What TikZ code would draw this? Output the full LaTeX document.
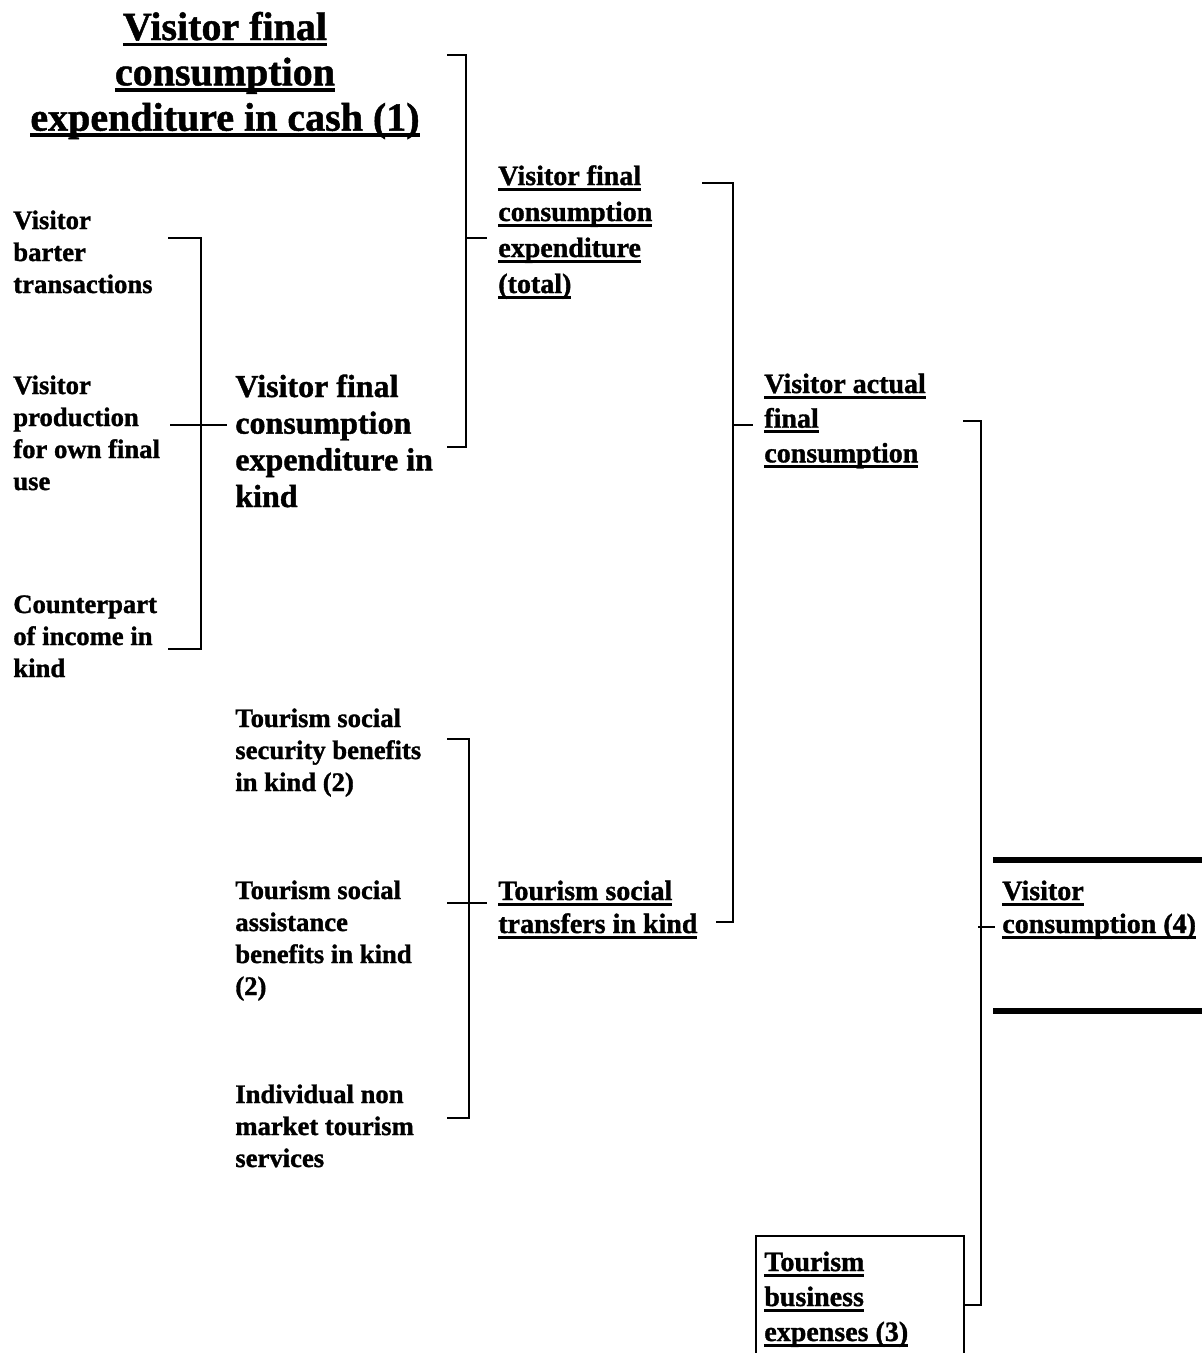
\documentclass[tikz,border=0pt]{standalone}
\usepackage{fontspec}
\setmainfont{Liberation Serif}[BoldFeatures={FakeBold=1.2}]
\newcommand\myul[1]{\setbox0=\hbox{#1}\rlap{\rule[-4.2pt]{\wd0}{2.3pt}}\box0}
\newcommand\mytul[1]{\setbox0=\hbox{#1}\rlap{\rule[-4.8pt]{\wd0}{2.7pt}}\box0}
\newcommand\lns[2]{\vtop{\baselineskip=#1\lineskiplimit=-100pt\halign{##\hfil\cr#2\crcr}}}
\newcommand\clns[2]{\vtop{\baselineskip=#1\lineskiplimit=-100pt\halign{\hfil##\hfil\cr#2\crcr}}}
\begin{document}
\begin{tikzpicture}[x=0.75pt,y=-0.75pt,line width=2pt,
  lbl/.style={inner sep=0pt,anchor=base west},
  sml/.style={lbl,font=\bfseries\fontsize{20}{24}\selectfont},
  mid/.style={lbl,font=\bfseries\fontsize{21}{26}\selectfont},
  big/.style={lbl,font=\bfseries\fontsize{24}{28}\selectfont},
  brk/.style={line width=2pt},
  thick bar/.style={line width=4.6pt}]
\useasboundingbox (0,0) rectangle (1202,1353);
\clip (0,0) rectangle (1202,1353);

% texts
\node[inner sep=0pt,anchor=base,font=\bfseries\fontsize{30}{34}\selectfont] (cash) at (225,40)
  {\clns{34pt}{\mytul{Visitor final}\cr\mytul{consumption}\cr\mytul{expenditure in cash (1)}}};
\node[sml] (barter) at (12,229) {\lns{24pt}{Visitor\cr barter\cr transactions}};
\node[sml] (own) at (12,394) {\lns{24pt}{Visitor\cr production\cr for own final\cr use}};
\node[sml] (income) at (12,613) {\lns{24pt}{Counterpart\cr of income in\cr kind}};
\node[big] (kind) at (234,397) {\lns{27.5pt}{Visitor final\cr consumption\cr expenditure in\cr kind}};
\node[mid] (total) at (497,185) {\lns{27pt}{\myul{Visitor final}\cr\myul{consumption}\cr\myul{expenditure}\cr\myul{(total)}}};
\node[mid] (actual) at (763,393) {\lns{26pt}{\myul{Visitor actual}\cr\myul{final}\cr\myul{consumption}}};
\node[sml] (security) at (234,727) {\lns{24pt}{Tourism social\cr security benefits\cr in kind (2)}};
\node[sml] (assist) at (234,899) {\lns{24pt}{Tourism social\cr assistance\cr benefits in kind\cr (2)}};
\node[sml] (nonmkt) at (234,1103) {\lns{24pt}{Individual non\cr market tourism\cr services}};
\node[mid] (transfers) at (497,900) {\lns{24.75pt}{\myul{Tourism social}\cr\myul{transfers in kind}}};
\node[mid] (vcons) at (1001,900) {\lns{24.75pt}{\myul{Visitor}\cr\myul{consumption (4)}}};
\node[draw,line width=1.6pt,inner sep=0pt,anchor=north west,minimum width=208*0.75pt,minimum height=140*0.75pt] (boxB) at (755,1235) {};
\node[mid] (business) at (763,1271) {\lns{26.25pt}{\myul{Tourism}\cr\myul{business}\cr\myul{expenses (3)}}};

% bracket 1: in kind
\coordinate (b1t) at (168,238); \coordinate (b1b) at (168,649);
\coordinate (b1l) at (170,425); \coordinate (b1r) at (227,425);
\draw[brk] (b1t) -- (201,238) -- (201,649) -- (b1b);
\draw[brk] (b1l) -- (b1r);
% bracket 2: total
\coordinate (b2t) at (447,55); \coordinate (b2b) at (447,447);
\coordinate (b2r) at (487,238);
\draw[brk] (b2t) -- (466,55) -- (466,447) -- (b2b);
\draw[brk] (466,238) -- (b2r);
% bracket 3: actual
\coordinate (b3t) at (702,183); \coordinate (b3b) at (716,922);
\coordinate (b3r) at (753,425);
\draw[brk] (b3t) -- (733,183) -- (733,922) -- (b3b);
\draw[brk] (733,425) -- (b3r);
% bracket 4: transfers
\coordinate (b4t) at (447,739); \coordinate (b4b) at (447,1118);
\coordinate (b4l) at (447,903); \coordinate (b4r) at (487,903);
\draw[brk] (b4t) -- (469,739) -- (469,1118) -- (b4b);
\draw[brk] (b4l) -- (b4r);
% bracket 5: visitor consumption
\coordinate (b5t) at (963,421);
\coordinate (b5r) at (995,927);
\draw[brk] (b5t) -- (981,421) -- (981,1305) -- (boxB.east |- 0,1305);
\draw[brk] (978,927) -- (b5r);
% thick bars
\coordinate (t1) at (993,860); \coordinate (t2) at (993,1011);
\draw[thick bar] (t1) -- (1205,860);
\draw[thick bar] (t2) -- (1205,1011);
\end{tikzpicture}
\end{document}
